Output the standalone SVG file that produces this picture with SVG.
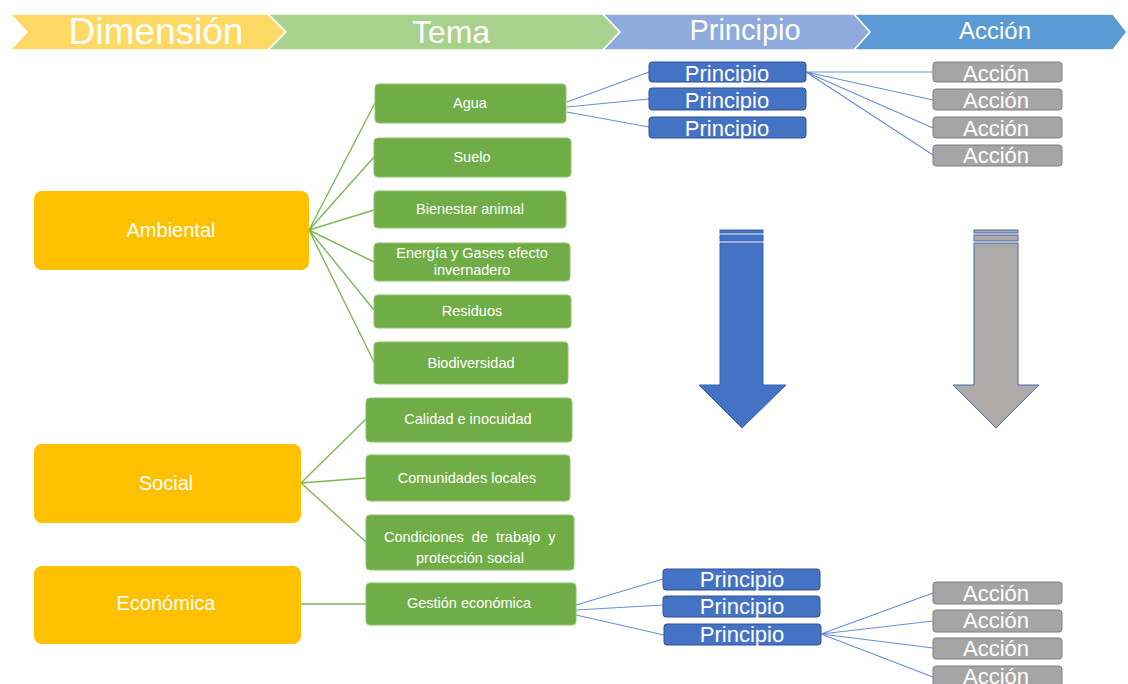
<svg xmlns="http://www.w3.org/2000/svg" width="1128" height="684" viewBox="0 0 1128 684">
<style>
text{font-family:"Liberation Sans",Arial,sans-serif;fill:#fff;text-anchor:middle}
.hdr{stroke:#fff;stroke-width:1.5}
.dim{fill:#FFC000}
.tema{fill:#70AD47;stroke:#8FC46B;stroke-width:1}
.tt{font-size:14.5px}
.dt{font-size:20px}
.pr{fill:#4472C4;stroke:#2F528F;stroke-width:1}
.ac{fill:#A5A5A5;stroke:#7F7F7F;stroke-width:1}
.bt{font-size:22px}
.gl{stroke:#7DB856;stroke-width:1.4;fill:none}
.bl{stroke:#6A8FD4;stroke-width:1.2;fill:none}
</style>
<rect width="1128" height="684" fill="#fff"/>
<g id="header">
<polygon class="hdr" fill="#FFD966" points="10,14 268,14 286,32 268,50 10,50 27,32"/>
<polygon class="hdr" fill="#A9D18E" points="268,14 603,14 620,32 603,50 268,50 286,32"/>
<polygon class="hdr" fill="#8FAADC" points="603,14 854,14 870,32 854,50 603,50 620,32"/>
<polygon class="hdr" fill="#5B9BD5" points="854,14 1113,14 1127,32 1113,50 854,50 870,32"/>
<text x="156" y="44" style="font-size:37px">Dimensión</text>
<text x="451" y="43" style="font-size:32px">Tema</text>
<text x="745" y="40" style="font-size:29px">Principio</text>
<text x="995" y="39" style="font-size:24px">Acción</text>
</g>
<g id="connectors">
<path class="gl" d="M309,230 L375,103 M309,230 L374,157 M309,230 L374,210 M309,230 L374,262 M309,230 L374,310 M309,230 L374,362"/>
<path class="gl" d="M301,483 L366,419 M301,483 L366,478 M301,483 L366,542 M301,604 L366,604"/>
<path class="bl" d="M567,102 L649,72 M567,107 L649,99 M567,112 L649,127"/>
<path class="bl" d="M806,72 L933,72 M806,72 L933,100 M806,72 L933,128 M806,72 L933,155"/>
<path class="bl" d="M576,605 L663,579 M576,610 L663,605 M576,615 L664,635"/>
<path class="bl" d="M821,634 L933,593 M821,634 L933,621 M821,634 L933,648 M821,634 L933,677"/>
</g>
<g id="ambiental"><rect class="dim" x="34" y="191" width="275" height="79" rx="8"/><text class="dt" x="171" y="237">Ambiental</text></g>
<g id="social"><rect class="dim" x="34" y="444" width="267" height="79" rx="8"/><text class="dt" x="166" y="490">Social</text></g>
<g id="economica"><rect class="dim" x="34" y="566" width="267" height="78" rx="8"/><text class="dt" x="166" y="610">Económica</text></g>
<g id="agua"><rect class="tema" x="375" y="84" width="191" height="39" rx="4"/><text class="tt" x="470" y="108">Agua</text></g>
<g id="suelo"><rect class="tema" x="374" y="138" width="197" height="39" rx="4"/><text class="tt" x="472" y="162">Suelo</text></g>
<g id="bienestar"><rect class="tema" x="374" y="191" width="192" height="37" rx="4"/><text class="tt" x="470" y="214">Bienestar animal</text></g>
<g id="energia"><rect class="tema" x="374" y="243" width="196" height="38" rx="4"/><text class="tt" x="472" y="258">Energía y Gases efecto</text><text class="tt" x="472" y="275">invernadero</text></g>
<g id="residuos"><rect class="tema" x="374" y="295" width="197" height="33" rx="4"/><text class="tt" x="472" y="316">Residuos</text></g>
<g id="biodiversidad"><rect class="tema" x="374" y="342" width="194" height="42" rx="4"/><text class="tt" x="471" y="368">Biodiversidad</text></g>
<g id="calidad"><rect class="tema" x="366" y="398" width="206" height="44" rx="4"/><text class="tt" x="468" y="424">Calidad e inocuidad</text></g>
<g id="comunidades"><rect class="tema" x="366" y="455" width="204" height="46" rx="4"/><text class="tt" x="467" y="483">Comunidades locales</text></g>
<g id="condiciones"><rect class="tema" x="366" y="515" width="208" height="55" rx="4"/><text class="tt" x="384" y="542" style="text-anchor:start;word-spacing:4px">Condiciones de trabajo y</text><text class="tt" x="470" y="563">protección social</text></g>
<g id="gestion"><rect class="tema" x="366" y="583" width="210" height="42" rx="4"/><text class="tt" x="469" y="608">Gestión económica</text></g>
<g id="principio1"><rect class="pr" x="649" y="62" width="157" height="20" rx="3"/><text class="bt" x="727" y="81">Principio</text></g>
<g id="principio2"><rect class="pr" x="649" y="88" width="157" height="22" rx="3"/><text class="bt" x="727" y="108">Principio</text></g>
<g id="principio3"><rect class="pr" x="649" y="117" width="157" height="21" rx="3"/><text class="bt" x="727" y="136">Principio</text></g>
<g id="accion1"><rect class="ac" x="933" y="62" width="129" height="20" rx="3"/><text class="bt" x="996" y="81">Acción</text></g>
<g id="accion2"><rect class="ac" x="933" y="89" width="129" height="21" rx="3"/><text class="bt" x="996" y="108">Acción</text></g>
<g id="accion3"><rect class="ac" x="933" y="117" width="129" height="21" rx="3"/><text class="bt" x="996" y="136">Acción</text></g>
<g id="accion4"><rect class="ac" x="933" y="145" width="129" height="21" rx="3"/><text class="bt" x="996" y="163">Acción</text></g>
<g id="principio4"><rect class="pr" x="663" y="569" width="157" height="21" rx="3"/><text class="bt" x="742" y="587">Principio</text></g>
<g id="principio5"><rect class="pr" x="663" y="596" width="157" height="21" rx="3"/><text class="bt" x="742" y="614">Principio</text></g>
<g id="principio6"><rect class="pr" x="664" y="624" width="157" height="21" rx="3"/><text class="bt" x="742" y="642">Principio</text></g>
<g id="accion5"><rect class="ac" x="933" y="582" width="129" height="22" rx="3"/><text class="bt" x="996" y="601">Acción</text></g>
<g id="accion6"><rect class="ac" x="933" y="610" width="129" height="22" rx="3"/><text class="bt" x="996" y="628">Acción</text></g>
<g id="accion7"><rect class="ac" x="933" y="638" width="129" height="21" rx="3"/><text class="bt" x="996" y="656">Acción</text></g>
<g id="accion8"><rect class="ac" x="933" y="666" width="129" height="22" rx="3"/><text class="bt" x="996" y="684">Acción</text></g>
<g id="arrow-principio" fill="#4472C4" stroke="#3A65B5" stroke-width="1">
<rect x="720" y="230" width="43" height="3"/>
<rect x="720" y="235" width="43" height="6"/>
<polygon points="720,243 763,243 763,385 786,385 742,428 699,385 720,385"/>
</g>
<g id="arrow-accion" fill="#AEAAAA" stroke="#4A6BA8" stroke-width="1">
<rect x="974" y="230" width="44" height="3"/>
<rect x="974" y="235" width="44" height="6"/>
<polygon points="974,243 1018,243 1018,385 1039,385 996,428 953,385 974,385"/>
</g>
</svg>
